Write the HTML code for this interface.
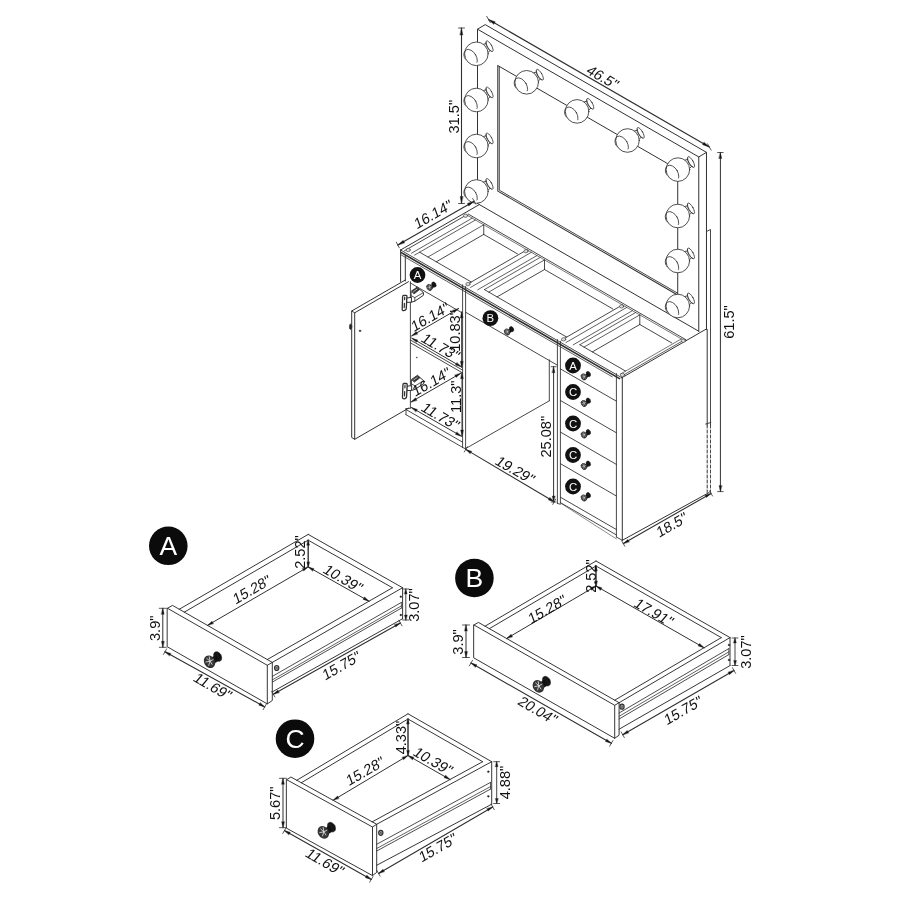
<!DOCTYPE html>
<html><head><meta charset="utf-8"><title>Vanity dimensions</title>
<style>
html,body{margin:0;padding:0;background:#fff;}
body{width:900px;height:900px;overflow:hidden;}
svg{display:block;font-family:"Liberation Sans",sans-serif;filter:grayscale(1);}
svg line,svg path,svg circle,svg ellipse{stroke:#303030;stroke-linecap:round;stroke-linejoin:round;}
svg text{fill:#111;stroke:none;}
</style></head><body>
<svg width="900" height="900" viewBox="0 0 900 900" fill="none">
<rect x="0" y="0" width="900" height="900" fill="#ffffff" stroke="none"/>
<path d="M477.5 203.5 L477.5 29.2 L698.77 156.95 L698.77 331.45" stroke-width="0.99" fill="none" />
<path d="M477.5 29.2 L485.2 24.6 L706.47 152.35 L706.47 329.5" stroke-width="0.99" fill="none" />
<line x1="698.77" y1="156.95" x2="706.47" y2="152.35" stroke-width="0.99" />
<line x1="477.5" y1="203.5" x2="698.77" y2="331.25" stroke-width="0.99" />
<line x1="498.2" y1="65.8" x2="677.73" y2="169.45" stroke-width="0.99" />
<line x1="677.73" y1="169.45" x2="677.73" y2="294.45" stroke-width="0.99" />
<path d="M497.8 65.6 L497.8 191.1 L677.67 294.95" stroke-width="1.04" fill="none" />
<path d="M499.3 66.7 L499.3 190.2 L677.61 293.15" stroke-width="0.88" fill="none" />
<path d="M706.47 231.5 L710.5 229.5 L710.5 330" stroke-width="0.88" fill="none" />
<path d="M481.42 44.9 L487.37 43.2 L491.07 49.6 L486.62 53.9" stroke-width="0.88" fill="#fff" />
<ellipse cx="489.56" cy="46.2" rx="2.1" ry="6.1" transform="rotate(-30 489.56 46.2)" fill="#fff" stroke-width="0.75"/>
<circle cx="476.4" cy="53.8" r="11.8" fill="#fff" stroke-width="0.85"/>
<path d="M486.01 42.25 A2.0 5.4 -30 0 0 491.21 51.25" stroke-width="0.7"/>
<clipPath id="bc476_53"><circle cx="476.4" cy="53.8" r="11.600000000000001"/></clipPath>
<ellipse cx="470.6" cy="57.7" rx="5.8" ry="9" transform="rotate(-30 470.6 57.7)" stroke-width="0.75" clip-path="url(#bc476_53)"/>
<path d="M481.42 91.1 L487.37 89.4 L491.07 95.8 L486.62 100.1" stroke-width="0.88" fill="#fff" />
<ellipse cx="489.56" cy="92.4" rx="2.1" ry="6.1" transform="rotate(-30 489.56 92.4)" fill="#fff" stroke-width="0.75"/>
<circle cx="476.4" cy="100" r="11.8" fill="#fff" stroke-width="0.85"/>
<path d="M486.01 88.45 A2.0 5.4 -30 0 0 491.21 97.45" stroke-width="0.7"/>
<clipPath id="bc476_100"><circle cx="476.4" cy="100" r="11.600000000000001"/></clipPath>
<ellipse cx="470.6" cy="103.9" rx="5.8" ry="9" transform="rotate(-30 470.6 103.9)" stroke-width="0.75" clip-path="url(#bc476_100)"/>
<path d="M481.42 137.1 L487.37 135.4 L491.07 141.8 L486.62 146.1" stroke-width="0.88" fill="#fff" />
<ellipse cx="489.56" cy="138.4" rx="2.1" ry="6.1" transform="rotate(-30 489.56 138.4)" fill="#fff" stroke-width="0.75"/>
<circle cx="476.4" cy="146" r="11.8" fill="#fff" stroke-width="0.85"/>
<path d="M486.01 134.45 A2.0 5.4 -30 0 0 491.21 143.45" stroke-width="0.7"/>
<clipPath id="bc476_146"><circle cx="476.4" cy="146" r="11.600000000000001"/></clipPath>
<ellipse cx="470.6" cy="149.9" rx="5.8" ry="9" transform="rotate(-30 470.6 149.9)" stroke-width="0.75" clip-path="url(#bc476_146)"/>
<path d="M481.42 182.6 L487.37 180.9 L491.07 187.3 L486.62 191.6" stroke-width="0.88" fill="#fff" />
<ellipse cx="489.56" cy="183.9" rx="2.1" ry="6.1" transform="rotate(-30 489.56 183.9)" fill="#fff" stroke-width="0.75"/>
<circle cx="476.4" cy="191.5" r="11.8" fill="#fff" stroke-width="0.85"/>
<path d="M486.01 179.95 A2.0 5.4 -30 0 0 491.21 188.95" stroke-width="0.7"/>
<clipPath id="bc476_191"><circle cx="476.4" cy="191.5" r="11.600000000000001"/></clipPath>
<ellipse cx="470.6" cy="195.4" rx="5.8" ry="9" transform="rotate(-30 470.6 195.4)" stroke-width="0.75" clip-path="url(#bc476_191)"/>
<path d="M531.72 73.4 L537.67 71.7 L541.37 78.1 L536.92 82.4" stroke-width="0.88" fill="#fff" />
<ellipse cx="539.86" cy="74.7" rx="2.1" ry="6.1" transform="rotate(-30 539.86 74.7)" fill="#fff" stroke-width="0.75"/>
<circle cx="526.7" cy="82.3" r="11.8" fill="#fff" stroke-width="0.85"/>
<path d="M536.31 70.75 A2.0 5.4 -30 0 0 541.51 79.75" stroke-width="0.7"/>
<clipPath id="bc526_82"><circle cx="526.7" cy="82.3" r="11.600000000000001"/></clipPath>
<ellipse cx="520.9" cy="86.2" rx="5.8" ry="9" transform="rotate(-30 520.9 86.2)" stroke-width="0.75" clip-path="url(#bc526_82)"/>
<path d="M582.12 102.5 L588.07 100.8 L591.77 107.2 L587.32 111.5" stroke-width="0.88" fill="#fff" />
<ellipse cx="590.27" cy="103.8" rx="2.1" ry="6.1" transform="rotate(-30 590.27 103.8)" fill="#fff" stroke-width="0.75"/>
<circle cx="577.1" cy="111.4" r="11.8" fill="#fff" stroke-width="0.85"/>
<path d="M586.71 99.85 A2.0 5.4 -30 0 0 591.91 108.85" stroke-width="0.7"/>
<clipPath id="bc577_111"><circle cx="577.1" cy="111.4" r="11.600000000000001"/></clipPath>
<ellipse cx="571.3" cy="115.3" rx="5.8" ry="9" transform="rotate(-30 571.3 115.3)" stroke-width="0.75" clip-path="url(#bc577_111)"/>
<path d="M632.53 131.6 L638.47 129.9 L642.17 136.3 L637.73 140.6" stroke-width="0.88" fill="#fff" />
<ellipse cx="640.67" cy="132.9" rx="2.1" ry="6.1" transform="rotate(-30 640.67 132.9)" fill="#fff" stroke-width="0.75"/>
<circle cx="627.51" cy="140.5" r="11.8" fill="#fff" stroke-width="0.85"/>
<path d="M637.12 128.95 A2.0 5.4 -30 0 0 642.32 137.95" stroke-width="0.7"/>
<clipPath id="bc627_140"><circle cx="627.51" cy="140.5" r="11.600000000000001"/></clipPath>
<ellipse cx="621.71" cy="144.4" rx="5.8" ry="9" transform="rotate(-30 621.71 144.4)" stroke-width="0.75" clip-path="url(#bc627_140)"/>
<path d="M682.93 160.7 L688.88 159 L692.58 165.4 L688.13 169.7" stroke-width="0.88" fill="#fff" />
<ellipse cx="691.07" cy="162" rx="2.1" ry="6.1" transform="rotate(-30 691.07 162)" fill="#fff" stroke-width="0.75"/>
<circle cx="677.91" cy="169.6" r="11.8" fill="#fff" stroke-width="0.85"/>
<path d="M687.52 158.05 A2.0 5.4 -30 0 0 692.72 167.05" stroke-width="0.7"/>
<clipPath id="bc677_169"><circle cx="677.91" cy="169.6" r="11.600000000000001"/></clipPath>
<ellipse cx="672.11" cy="173.5" rx="5.8" ry="9" transform="rotate(-30 672.11 173.5)" stroke-width="0.75" clip-path="url(#bc677_169)"/>
<path d="M682.82 207.1 L688.77 205.4 L692.47 211.8 L688.02 216.1" stroke-width="0.88" fill="#fff" />
<ellipse cx="690.96" cy="208.4" rx="2.1" ry="6.1" transform="rotate(-30 690.96 208.4)" fill="#fff" stroke-width="0.75"/>
<circle cx="677.8" cy="216" r="11.8" fill="#fff" stroke-width="0.85"/>
<path d="M687.41 204.45 A2.0 5.4 -30 0 0 692.61 213.45" stroke-width="0.7"/>
<clipPath id="bc677_216"><circle cx="677.8" cy="216" r="11.600000000000001"/></clipPath>
<ellipse cx="672" cy="219.9" rx="5.8" ry="9" transform="rotate(-30 672 219.9)" stroke-width="0.75" clip-path="url(#bc677_216)"/>
<path d="M682.82 252.1 L688.77 250.4 L692.47 256.8 L688.02 261.1" stroke-width="0.88" fill="#fff" />
<ellipse cx="690.96" cy="253.4" rx="2.1" ry="6.1" transform="rotate(-30 690.96 253.4)" fill="#fff" stroke-width="0.75"/>
<circle cx="677.8" cy="261" r="11.8" fill="#fff" stroke-width="0.85"/>
<path d="M687.41 249.45 A2.0 5.4 -30 0 0 692.61 258.45" stroke-width="0.7"/>
<clipPath id="bc677_261"><circle cx="677.8" cy="261" r="11.600000000000001"/></clipPath>
<ellipse cx="672" cy="264.9" rx="5.8" ry="9" transform="rotate(-30 672 264.9)" stroke-width="0.75" clip-path="url(#bc677_261)"/>
<path d="M682.82 297.1 L688.77 295.4 L692.47 301.8 L688.02 306.1" stroke-width="0.88" fill="#fff" />
<ellipse cx="690.96" cy="298.4" rx="2.1" ry="6.1" transform="rotate(-30 690.96 298.4)" fill="#fff" stroke-width="0.75"/>
<circle cx="677.8" cy="306" r="11.8" fill="#fff" stroke-width="0.85"/>
<path d="M687.41 294.45 A2.0 5.4 -30 0 0 692.61 303.45" stroke-width="0.7"/>
<clipPath id="bc677_306"><circle cx="677.8" cy="306" r="11.600000000000001"/></clipPath>
<ellipse cx="672" cy="309.9" rx="5.8" ry="9" transform="rotate(-30 672 309.9)" stroke-width="0.75" clip-path="url(#bc677_306)"/>
<line x1="488.5" y1="19.5" x2="709.3" y2="147" stroke-width="1.2" />
<path d="M488.5 19.5 L495.24 21.83 L493.89 24.17 Z" stroke-width="0.4" fill="#111" />
<path d="M709.3 147 L702.56 144.67 L703.91 142.33 Z" stroke-width="0.4" fill="#111" />
<line x1="490.3" y1="22.7" x2="486.7" y2="16.3" stroke-width="0.8" />
<line x1="711.1" y1="150.2" x2="707.5" y2="143.8" stroke-width="0.8" />
<text transform="translate(603 77) rotate(30) skewX(-10)" x="0" y="5.26" font-size="14.6" text-anchor="middle">46.5"</text>
<line x1="461.5" y1="28" x2="461.5" y2="203.5" stroke-width="1.1" />
<path d="M461.5 28 L462.85 35 L460.15 35 Z" stroke-width="0.4" fill="#111" />
<path d="M461.5 203.5 L460.15 196.5 L462.85 196.5 Z" stroke-width="0.4" fill="#111" />
<line x1="458.5" y1="28" x2="464.5" y2="28" stroke-width="0.8" />
<line x1="458.5" y1="203.5" x2="464.5" y2="203.5" stroke-width="0.8" />
<text transform="translate(453.3 116.7) rotate(-90) skewX(0)" x="0" y="5.26" font-size="14.6" text-anchor="middle">31.5"</text>
<line x1="400.6" y1="250" x2="621.87" y2="377.75" stroke-width="0.88" />
<line x1="401.29" y1="252.6" x2="619.53" y2="378.6" stroke-width="1.65" />
<line x1="401.38" y1="255.05" x2="612.26" y2="376.8" stroke-width="0.77" />
<line x1="400.6" y1="250" x2="479.06" y2="204.7" stroke-width="0.99" />
<line x1="621.87" y1="377.75" x2="706.31" y2="329" stroke-width="0.99" />
<line x1="621.61" y1="376.1" x2="683.53" y2="340.35" stroke-width="0.77" />
<line x1="620.57" y1="374" x2="681.19" y2="339" stroke-width="0.66" />
<line x1="468.15" y1="214" x2="685.96" y2="339.75" stroke-width="0.88" />
<line x1="466.59" y1="214.9" x2="681.8" y2="339.15" stroke-width="0.66" />
<line x1="404.5" y1="250.75" x2="466.59" y2="214.9" stroke-width="0.88" />
<line x1="411.43" y1="253.25" x2="472.22" y2="218.15" stroke-width="0.77" />
<line x1="414.63" y1="255.1" x2="475.42" y2="220" stroke-width="0.77" />
<line x1="427.97" y1="257" x2="483.74" y2="224.8" stroke-width="0.77" />
<line x1="483.74" y1="224.8" x2="483.74" y2="234.4" stroke-width="0.88" />
<line x1="436.28" y1="261.8" x2="483.74" y2="234.4" stroke-width="0.88" />
<line x1="483.74" y1="234.4" x2="517.43" y2="253.85" stroke-width="0.88" />
<line x1="419.65" y1="252.2" x2="471.27" y2="282" stroke-width="0.88" />
<line x1="488.76" y1="292.1" x2="544.53" y2="259.9" stroke-width="0.77" />
<line x1="544.53" y1="259.9" x2="544.53" y2="269.5" stroke-width="0.88" />
<line x1="497.08" y1="296.9" x2="544.53" y2="269.5" stroke-width="0.88" />
<line x1="544.53" y1="269.5" x2="612.86" y2="308.95" stroke-width="0.88" />
<line x1="484.43" y1="289.6" x2="566.7" y2="337.1" stroke-width="0.88" />
<line x1="584.02" y1="347.1" x2="639.8" y2="314.9" stroke-width="0.77" />
<line x1="639.8" y1="314.9" x2="639.8" y2="324.5" stroke-width="0.88" />
<line x1="592.34" y1="351.9" x2="639.8" y2="324.5" stroke-width="0.88" />
<line x1="639.8" y1="324.5" x2="671.75" y2="342.95" stroke-width="0.88" />
<line x1="579.87" y1="344.7" x2="625.59" y2="371.1" stroke-width="0.88" />
<line x1="466.24" y1="284.9" x2="527.04" y2="249.8" stroke-width="0.88" />
<line x1="470.57" y1="287.4" x2="531.37" y2="252.3" stroke-width="0.77" />
<line x1="477.76" y1="289.75" x2="537" y2="255.55" stroke-width="0.77" />
<line x1="484.43" y1="289.6" x2="540.2" y2="257.4" stroke-width="0.77" />
<line x1="561.68" y1="340" x2="622.48" y2="304.9" stroke-width="0.88" />
<line x1="566.01" y1="342.5" x2="626.81" y2="307.4" stroke-width="0.77" />
<line x1="573.2" y1="344.85" x2="632.44" y2="310.65" stroke-width="0.77" />
<line x1="579.87" y1="344.7" x2="635.64" y2="312.5" stroke-width="0.77" />
<ellipse cx="408.22" cy="250" rx="2.1" ry="1.7" fill="#ddd" stroke-width="0.6"/>
<ellipse cx="465.55" cy="215.7" rx="2.1" ry="1.7" fill="#ddd" stroke-width="0.6"/>
<ellipse cx="467.98" cy="284.1" rx="2.1" ry="1.7" fill="#ddd" stroke-width="0.6"/>
<ellipse cx="526" cy="251.2" rx="2.1" ry="1.7" fill="#ddd" stroke-width="0.6"/>
<ellipse cx="563.67" cy="339.35" rx="2.1" ry="1.7" fill="#ddd" stroke-width="0.6"/>
<ellipse cx="621.61" cy="306.4" rx="2.1" ry="1.7" fill="#ddd" stroke-width="0.6"/>
<ellipse cx="622.48" cy="374.9" rx="2.1" ry="1.7" fill="#ddd" stroke-width="0.6"/>
<ellipse cx="683.27" cy="340.8" rx="2.1" ry="1.7" fill="#ddd" stroke-width="0.6"/>
<line x1="397.8" y1="245" x2="474.2" y2="201.3" stroke-width="1.2" />
<path d="M397.8 245 L403.21 240.35 L404.55 242.7 Z" stroke-width="0.4" fill="#111" />
<path d="M474.2 201.3 L468.79 205.95 L467.45 203.6 Z" stroke-width="0.4" fill="#111" />
<line x1="399.3" y1="247.8" x2="396.3" y2="242.2" stroke-width="0.8" />
<line x1="475.7" y1="204.1" x2="472.7" y2="198.5" stroke-width="0.8" />
<text transform="translate(433 214) rotate(-30) skewX(-10)" x="0" y="5.26" font-size="14.6" text-anchor="middle">16.14"</text>
<line x1="400.6" y1="250" x2="400.6" y2="281.5" stroke-width="0.99" />
<line x1="405.3" y1="255.71" x2="405.3" y2="281" stroke-width="0.99" />
<line x1="410.4" y1="283" x2="462.6" y2="313.14" stroke-width="0.88" />
<line x1="410.4" y1="281.7" x2="410.4" y2="408" stroke-width="0.88" />
<line x1="462.6" y1="284.8" x2="462.6" y2="447.5" stroke-width="0.88" />
<line x1="465.6" y1="286.53" x2="465.6" y2="448.5" stroke-width="0.88" />
<line x1="462.6" y1="447.5" x2="465.6" y2="448.8" stroke-width="0.88" />
<line x1="410.4" y1="340" x2="462.6" y2="370.14" stroke-width="0.88" />
<line x1="410.4" y1="342.8" x2="462.6" y2="372.94" stroke-width="0.88" />
<path d="M406 408.7 L410.4 408.2" stroke-width="0.88" fill="none" />
<line x1="406" y1="408.7" x2="406" y2="414.7" stroke-width="0.88" />
<line x1="406" y1="409.5" x2="462.6" y2="442.18" stroke-width="0.88" />
<line x1="406" y1="414.7" x2="462.6" y2="447.38" stroke-width="0.88" />
<path d="M408.5 281.7 L354.7 312.8 L354.7 439.3 L408.5 408.2" stroke-width="0.99" fill="none" />
<path d="M405.5 279.9 L351.7 311 L351.7 437.5 L354.7 439.3" stroke-width="0.99" fill="none" />
<line x1="351.7" y1="311" x2="354.7" y2="312.8" stroke-width="0.88" />
<ellipse cx="350.6" cy="326.7" rx="1.2" ry="2.8" fill="#222" stroke-width="0.6"/>
<circle cx="360" cy="330.8" r="0.9" fill="#222" stroke-width="0.4"/>
<circle cx="416.7" cy="357.5" r="0.5" fill="#222" stroke-width="0.3"/>
<g transform="translate(0 0)"><path d="M411.4 291.1 L417.2 287.1 L423.4 292.6 L423.4 295.3 L414.8 301.2 L411.4 302.2 Z" fill="#fff" stroke-width="1"/><path d="M411.4 295.8 L414.8 297.6 L423.4 292.6 M414.8 297.6 L414.8 301.2" stroke-width="0.8"/><path d="M412 291.6 L417.2 287.6 L419.6 289.6 L414.2 293.8 Z" fill="#333" stroke-width="0.8"/><path d="M413.6 291.6 L417 289.2" stroke-width="0.7" style="stroke:#eee"/><path d="M406.8 298 L411.4 297.4 L411.4 302.2 L406.8 302.4 Z" fill="#fff" stroke-width="1"/><path d="M403.6 295.3 L406.1 295.3 Q407 295.3 406.9 296.4 L406.3 308.4 Q405.9 310.6 403.7 310.6 Q402.1 310.6 402.2 309 L402.6 296.8 Q402.7 295.3 403.6 295.3 Z" fill="#fff" stroke-width="1.3"/><path d="M404.7 297.2 L404.6 299.6 M404.4 303.4 L404.2 307.6" stroke-width="1.2"/></g>
<g transform="translate(0.3 88.2)"><path d="M411.4 291.1 L417.2 287.1 L423.4 292.6 L423.4 295.3 L414.8 301.2 L411.4 302.2 Z" fill="#fff" stroke-width="1"/><path d="M411.4 295.8 L414.8 297.6 L423.4 292.6 M414.8 297.6 L414.8 301.2" stroke-width="0.8"/><path d="M412 291.6 L417.2 287.6 L419.6 289.6 L414.2 293.8 Z" fill="#333" stroke-width="0.8"/><path d="M413.6 291.6 L417 289.2" stroke-width="0.7" style="stroke:#eee"/><path d="M406.8 298 L411.4 297.4 L411.4 302.2 L406.8 302.4 Z" fill="#fff" stroke-width="1"/><path d="M403.6 295.3 L406.1 295.3 Q407 295.3 406.9 296.4 L406.3 308.4 Q405.9 310.6 403.7 310.6 Q402.1 310.6 402.2 309 L402.6 296.8 Q402.7 295.3 403.6 295.3 Z" fill="#fff" stroke-width="1.3"/><path d="M404.7 297.2 L404.6 299.6 M404.4 303.4 L404.2 307.6" stroke-width="1.2"/></g>
<line x1="465.6" y1="312.2" x2="557.4" y2="365.2" stroke-width="0.88" />
<line x1="465.6" y1="448.6" x2="549.3" y2="400.8" stroke-width="0.88" />
<line x1="549.3" y1="400.8" x2="549.3" y2="359.85" stroke-width="0.88" />
<line x1="557.4" y1="339.53" x2="557.4" y2="503.5" stroke-width="0.88" />
<line x1="560.4" y1="341.26" x2="560.4" y2="503" stroke-width="0.88" />
<line x1="557.4" y1="503.5" x2="560.4" y2="504.2" stroke-width="0.88" />
<line x1="616.4" y1="373.59" x2="616.4" y2="537" stroke-width="0.88" />
<line x1="622.3" y1="378" x2="622.3" y2="540.3" stroke-width="0.99" />
<line x1="560.4" y1="368.87" x2="616.4" y2="401.2" stroke-width="0.88" />
<line x1="560.4" y1="400.47" x2="616.4" y2="432.8" stroke-width="0.88" />
<line x1="560.4" y1="432.07" x2="616.4" y2="464.4" stroke-width="0.88" />
<line x1="560.4" y1="463.67" x2="616.4" y2="496" stroke-width="0.88" />
<line x1="560.4" y1="497.2" x2="616.4" y2="529.53" stroke-width="0.88" />
<line x1="560.4" y1="502.6" x2="616.4" y2="534.93" stroke-width="0.88" />
<line x1="560.4" y1="503" x2="616.4" y2="538.93" stroke-width="0.55" />
<line x1="616.4" y1="537" x2="622.3" y2="540.3" stroke-width="0.88" />
<line x1="622.3" y1="540.3" x2="709.2" y2="492.5" stroke-width="0.99" />
<line x1="707.2" y1="329.5" x2="707.2" y2="425" stroke-width="0.99" />
<line x1="710.5" y1="330" x2="710.5" y2="425" stroke-width="0.88" />
<line x1="707.2" y1="425" x2="707.2" y2="492.5" stroke-width="0.99" stroke-dasharray="3 2"/>
<line x1="710.5" y1="425" x2="710.5" y2="492" stroke-width="0.88" stroke-dasharray="3 2"/>
<line x1="705.7" y1="424" x2="710.8" y2="422.5" stroke-width="0.88" />
<circle cx="417.5" cy="275" r="7.9" fill="#111" stroke="none" style="stroke:none"/>
<text x="417.5" y="279.1" font-size="11.4" text-anchor="middle" style="fill:#fff">A</text>
<g transform="translate(429.6 287.2) scale(0.55)"><ellipse cx="8" cy="-4.9" rx="3.6" ry="5.2" transform="rotate(-30 8 -4.9)" fill="#111" stroke-width="0.6"/><path d="M2 -3.2 L6.6 -8 L10.2 -1.6 L4.4 2.2 Z" fill="#111" stroke-width="0.5"/><ellipse cx="-0.3" cy="0.2" rx="4.7" ry="5.9" transform="rotate(-30)" fill="#3a3a3a" stroke-width="1.4"/><path d="M-2.8 -3 L0.4 -0.2 L-1 4 M0.4 -0.2 L3.4 -1.8 M-3.8 0.6 L0.4 -0.2 M-0.4 -4.6 L0.4 -0.2 L2.4 3" stroke-width="0.8" style="stroke:#e8e8e8"/></g>
<circle cx="490.4" cy="318.2" r="7.9" fill="#111" stroke="none" style="stroke:none"/>
<text x="490.4" y="322.3" font-size="11.4" text-anchor="middle" style="fill:#fff">B</text>
<g transform="translate(507.2 331.8) scale(0.55)"><ellipse cx="8" cy="-4.9" rx="3.6" ry="5.2" transform="rotate(-30 8 -4.9)" fill="#111" stroke-width="0.6"/><path d="M2 -3.2 L6.6 -8 L10.2 -1.6 L4.4 2.2 Z" fill="#111" stroke-width="0.5"/><ellipse cx="-0.3" cy="0.2" rx="4.7" ry="5.9" transform="rotate(-30)" fill="#3a3a3a" stroke-width="1.4"/><path d="M-2.8 -3 L0.4 -0.2 L-1 4 M0.4 -0.2 L3.4 -1.8 M-3.8 0.6 L0.4 -0.2 M-0.4 -4.6 L0.4 -0.2 L2.4 3" stroke-width="0.8" style="stroke:#e8e8e8"/></g>
<circle cx="573" cy="365.5" r="7.9" fill="#111" stroke="none" style="stroke:none"/>
<text x="573" y="369.6" font-size="11.4" text-anchor="middle" style="fill:#fff">A</text>
<g transform="translate(584 376.7) scale(0.55)"><ellipse cx="8" cy="-4.9" rx="3.6" ry="5.2" transform="rotate(-30 8 -4.9)" fill="#111" stroke-width="0.6"/><path d="M2 -3.2 L6.6 -8 L10.2 -1.6 L4.4 2.2 Z" fill="#111" stroke-width="0.5"/><ellipse cx="-0.3" cy="0.2" rx="4.7" ry="5.9" transform="rotate(-30)" fill="#3a3a3a" stroke-width="1.4"/><path d="M-2.8 -3 L0.4 -0.2 L-1 4 M0.4 -0.2 L3.4 -1.8 M-3.8 0.6 L0.4 -0.2 M-0.4 -4.6 L0.4 -0.2 L2.4 3" stroke-width="0.8" style="stroke:#e8e8e8"/></g>
<circle cx="573" cy="392" r="7.9" fill="#111" stroke="none" style="stroke:none"/>
<text x="573" y="396.1" font-size="11.4" text-anchor="middle" style="fill:#fff">C</text>
<g transform="translate(584 403.3) scale(0.55)"><ellipse cx="8" cy="-4.9" rx="3.6" ry="5.2" transform="rotate(-30 8 -4.9)" fill="#111" stroke-width="0.6"/><path d="M2 -3.2 L6.6 -8 L10.2 -1.6 L4.4 2.2 Z" fill="#111" stroke-width="0.5"/><ellipse cx="-0.3" cy="0.2" rx="4.7" ry="5.9" transform="rotate(-30)" fill="#3a3a3a" stroke-width="1.4"/><path d="M-2.8 -3 L0.4 -0.2 L-1 4 M0.4 -0.2 L3.4 -1.8 M-3.8 0.6 L0.4 -0.2 M-0.4 -4.6 L0.4 -0.2 L2.4 3" stroke-width="0.8" style="stroke:#e8e8e8"/></g>
<circle cx="573" cy="423.5" r="7.9" fill="#111" stroke="none" style="stroke:none"/>
<text x="573" y="427.6" font-size="11.4" text-anchor="middle" style="fill:#fff">C</text>
<g transform="translate(584 434.8) scale(0.55)"><ellipse cx="8" cy="-4.9" rx="3.6" ry="5.2" transform="rotate(-30 8 -4.9)" fill="#111" stroke-width="0.6"/><path d="M2 -3.2 L6.6 -8 L10.2 -1.6 L4.4 2.2 Z" fill="#111" stroke-width="0.5"/><ellipse cx="-0.3" cy="0.2" rx="4.7" ry="5.9" transform="rotate(-30)" fill="#3a3a3a" stroke-width="1.4"/><path d="M-2.8 -3 L0.4 -0.2 L-1 4 M0.4 -0.2 L3.4 -1.8 M-3.8 0.6 L0.4 -0.2 M-0.4 -4.6 L0.4 -0.2 L2.4 3" stroke-width="0.8" style="stroke:#e8e8e8"/></g>
<circle cx="573" cy="455" r="7.9" fill="#111" stroke="none" style="stroke:none"/>
<text x="573" y="459.1" font-size="11.4" text-anchor="middle" style="fill:#fff">C</text>
<g transform="translate(584 466.3) scale(0.55)"><ellipse cx="8" cy="-4.9" rx="3.6" ry="5.2" transform="rotate(-30 8 -4.9)" fill="#111" stroke-width="0.6"/><path d="M2 -3.2 L6.6 -8 L10.2 -1.6 L4.4 2.2 Z" fill="#111" stroke-width="0.5"/><ellipse cx="-0.3" cy="0.2" rx="4.7" ry="5.9" transform="rotate(-30)" fill="#3a3a3a" stroke-width="1.4"/><path d="M-2.8 -3 L0.4 -0.2 L-1 4 M0.4 -0.2 L3.4 -1.8 M-3.8 0.6 L0.4 -0.2 M-0.4 -4.6 L0.4 -0.2 L2.4 3" stroke-width="0.8" style="stroke:#e8e8e8"/></g>
<circle cx="573" cy="486.5" r="7.9" fill="#111" stroke="none" style="stroke:none"/>
<text x="573" y="490.6" font-size="11.4" text-anchor="middle" style="fill:#fff">C</text>
<g transform="translate(584 497.8) scale(0.55)"><ellipse cx="8" cy="-4.9" rx="3.6" ry="5.2" transform="rotate(-30 8 -4.9)" fill="#111" stroke-width="0.6"/><path d="M2 -3.2 L6.6 -8 L10.2 -1.6 L4.4 2.2 Z" fill="#111" stroke-width="0.5"/><ellipse cx="-0.3" cy="0.2" rx="4.7" ry="5.9" transform="rotate(-30)" fill="#3a3a3a" stroke-width="1.4"/><path d="M-2.8 -3 L0.4 -0.2 L-1 4 M0.4 -0.2 L3.4 -1.8 M-3.8 0.6 L0.4 -0.2 M-0.4 -4.6 L0.4 -0.2 L2.4 3" stroke-width="0.8" style="stroke:#e8e8e8"/></g>
<line x1="411.7" y1="335.8" x2="458.6" y2="308.6" stroke-width="1.0" />
<path d="M411.7 335.8 L416.21 331.62 L417.57 333.96 Z" stroke-width="0.4" fill="#111" />
<path d="M458.6 308.6 L454.09 312.78 L452.73 310.44 Z" stroke-width="0.4" fill="#111" />
<text transform="translate(430 316.7) rotate(-30) skewX(-10)" x="0" y="5.26" font-size="14.6" text-anchor="middle">16.14"</text>
<line x1="411.9" y1="338.2" x2="461.3" y2="366.8" stroke-width="1.0" />
<path d="M411.9 338.2 L417.77 340.04 L416.42 342.37 Z" stroke-width="0.4" fill="#111" />
<path d="M461.3 366.8 L455.43 364.96 L456.78 362.63 Z" stroke-width="0.4" fill="#111" />
<text transform="translate(440.8 346.7) rotate(30) skewX(-10)" x="0" y="5.26" font-size="14.6" text-anchor="middle">11.73"</text>
<line x1="461.7" y1="312" x2="461.7" y2="367.3" stroke-width="1.0" />
<path d="M461.7 312 L463.05 318 L460.35 318 Z" stroke-width="0.4" fill="#111" />
<path d="M461.7 367.3 L460.35 361.3 L463.05 361.3 Z" stroke-width="0.4" fill="#111" />
<text transform="translate(454.4 331) rotate(-90) skewX(0)" x="0" y="5.26" font-size="14.6" text-anchor="middle">10.83"</text>
<line x1="411" y1="402" x2="460.7" y2="373.3" stroke-width="1.0" />
<path d="M411 402 L415.52 397.83 L416.87 400.17 Z" stroke-width="0.4" fill="#111" />
<path d="M460.7 373.3 L456.18 377.47 L454.83 375.13 Z" stroke-width="0.4" fill="#111" />
<text transform="translate(431.3 381.6) rotate(-30) skewX(-10)" x="0" y="5.26" font-size="14.6" text-anchor="middle">16.14"</text>
<line x1="411.5" y1="407.6" x2="461.3" y2="436.2" stroke-width="1.0" />
<path d="M411.5 407.6 L417.38 409.42 L416.03 411.76 Z" stroke-width="0.4" fill="#111" />
<path d="M461.3 436.2 L455.42 434.38 L456.77 432.04 Z" stroke-width="0.4" fill="#111" />
<text transform="translate(440.7 416) rotate(30) skewX(-10)" x="0" y="5.26" font-size="14.6" text-anchor="middle">11.73"</text>
<line x1="462" y1="372.7" x2="462" y2="436" stroke-width="1.0" />
<path d="M462 372.7 L463.35 378.7 L460.65 378.7 Z" stroke-width="0.4" fill="#111" />
<path d="M462 436 L460.65 430 L463.35 430 Z" stroke-width="0.4" fill="#111" />
<text transform="translate(455.3 396.7) rotate(-90) skewX(0)" x="0" y="5.26" font-size="14.6" text-anchor="middle">11.3"</text>
<line x1="553.6" y1="366.7" x2="553.6" y2="502" stroke-width="1.0" />
<path d="M553.6 366.7 L554.95 372.7 L552.25 372.7 Z" stroke-width="0.4" fill="#111" />
<path d="M553.6 502 L552.25 496 L554.95 496 Z" stroke-width="0.4" fill="#111" />
<line x1="551.1" y1="366.7" x2="556.1" y2="366.7" stroke-width="0.8" />
<line x1="551.1" y1="502" x2="556.1" y2="502" stroke-width="0.8" />
<text transform="translate(545.5 436.7) rotate(-90) skewX(0)" x="0" y="5.26" font-size="14.6" text-anchor="middle">25.08"</text>
<line x1="465.8" y1="449.4" x2="554.2" y2="501.8" stroke-width="1.1" />
<path d="M465.8 449.4 L471.65 451.3 L470.27 453.62 Z" stroke-width="0.4" fill="#111" />
<path d="M554.2 501.8 L548.35 499.9 L549.73 497.58 Z" stroke-width="0.4" fill="#111" />
<line x1="467.3" y1="446.8" x2="464.3" y2="452" stroke-width="0.8" />
<line x1="555.7" y1="499.2" x2="552.7" y2="504.4" stroke-width="0.8" />
<text transform="translate(515.3 469.7) rotate(30) skewX(-10)" x="0" y="5.26" font-size="14.6" text-anchor="middle">19.29"</text>
<line x1="623.3" y1="543.6" x2="711" y2="493.4" stroke-width="1.1" />
<path d="M623.3 543.6 L627.84 539.45 L629.18 541.79 Z" stroke-width="0.4" fill="#111" />
<path d="M711 493.4 L706.46 497.55 L705.12 495.21 Z" stroke-width="0.4" fill="#111" />
<line x1="621.8" y1="541" x2="624.8" y2="546.2" stroke-width="0.8" />
<line x1="709.5" y1="490.8" x2="712.5" y2="496" stroke-width="0.8" />
<text transform="translate(671.6 524.6) rotate(-30) skewX(-10)" x="0" y="5.26" font-size="14.6" text-anchor="middle">18.5"</text>
<line x1="720.4" y1="152.5" x2="720.4" y2="491.6" stroke-width="1.0" />
<path d="M720.4 152.5 L721.75 158.5 L719.05 158.5 Z" stroke-width="0.4" fill="#111" />
<path d="M720.4 491.6 L719.05 485.6 L721.75 485.6 Z" stroke-width="0.4" fill="#111" />
<line x1="717.6" y1="152.5" x2="723.2" y2="152.5" stroke-width="0.8" />
<line x1="717.6" y1="491.6" x2="723.2" y2="491.6" stroke-width="0.8" />
<text transform="translate(728.6 322) rotate(-90) skewX(0)" x="0" y="5.26" font-size="14.6" text-anchor="middle">61.5"</text>
<path d="M167.5 608.3 L267.3 665.3 L267.3 703.9 L167.5 646.9 Z" stroke-width="0.97" fill="none" />
<path d="M167.5 608.3 L172.5 605.4 L272.3 662.4 L267.3 665.3" stroke-width="0.97" fill="none" />
<path d="M272.3 662.4 L272.3 700.5 L267.3 703.9" stroke-width="0.97" fill="none" />
<line x1="179.2" y1="609.3" x2="308.2" y2="534.4" stroke-width="0.97" />
<line x1="308.2" y1="534.4" x2="402.6" y2="587.7" stroke-width="0.97" />
<line x1="402.6" y1="587.7" x2="272.3" y2="662.4" stroke-width="0.97" />
<line x1="308.2" y1="540.2" x2="184.3" y2="612.14" stroke-width="0.97" />
<line x1="308.2" y1="540.2" x2="392.44" y2="587.76" stroke-width="0.97" />
<line x1="392.44" y1="587.76" x2="267.27" y2="659.53" stroke-width="0.97" />
<line x1="308.2" y1="540.2" x2="308.2" y2="566.9" stroke-width="0.97" />
<line x1="402.6" y1="587.7" x2="402.6" y2="618.7" stroke-width="0.97" />
<line x1="402.6" y1="618.7" x2="272.3" y2="691.9" stroke-width="0.97" />
<line x1="401.4" y1="602.4" x2="272.3" y2="676.4" stroke-width="0.86" />
<line x1="401.4" y1="605.9" x2="272.3" y2="679.9" stroke-width="0.76" />
<line x1="401.4" y1="608.1" x2="272.3" y2="682.1" stroke-width="0.86" />
<line x1="401.4" y1="602.4" x2="401.4" y2="608.1" stroke-width="0.76" />
<ellipse cx="276.7" cy="668" rx="2.12" ry="2.5" fill="#aaa" stroke-width="1.2"/>
<path d="M275.6 669.1 L277.8 666.9 M275.7 667 L277.7 669" stroke-width="0.6" style="stroke:#333"/>
<circle cx="400.8" cy="596.7" r="0.9" fill="#222" stroke-width="0.4"/>
<circle cx="400.8" cy="615" r="0.9" fill="#222" stroke-width="0.4"/>
<g transform="translate(209.7 661.4) scale(1.0)"><ellipse cx="8" cy="-4.9" rx="3.6" ry="5.2" transform="rotate(-30 8 -4.9)" fill="#111" stroke-width="0.6"/><path d="M2 -3.2 L6.6 -8 L10.2 -1.6 L4.4 2.2 Z" fill="#111" stroke-width="0.5"/><ellipse cx="-0.3" cy="0.2" rx="4.7" ry="5.9" transform="rotate(-30)" fill="#3a3a3a" stroke-width="1.4"/><path d="M-2.8 -3 L0.4 -0.2 L-1 4 M0.4 -0.2 L3.4 -1.8 M-3.8 0.6 L0.4 -0.2 M-0.4 -4.6 L0.4 -0.2 L2.4 3" stroke-width="0.8" style="stroke:#e8e8e8"/></g>
<circle cx="168.3" cy="545.8" r="19.3" fill="#0b0b0b" style="stroke:none"/>
<text x="168.3" y="555.29" font-size="26.5" text-anchor="middle" style="fill:#fff">A</text>
<line x1="207.48" y1="625.38" x2="308.2" y2="566.9" stroke-width="1.0" />
<path d="M207.48 625.38 L211.99 621.2 L213.35 623.53 Z" stroke-width="0.4" fill="#111" />
<path d="M308.2 566.9 L303.69 571.08 L302.33 568.75 Z" stroke-width="0.4" fill="#111" />
<text transform="translate(251.7 589.2) rotate(-30) skewX(-10)" x="0" y="5.26" font-size="14.6" text-anchor="middle">15.28"</text>
<line x1="308.2" y1="566.9" x2="368.98" y2="601.22" stroke-width="1.0" />
<path d="M308.2 566.9 L314.09 568.67 L312.76 571.03 Z" stroke-width="0.4" fill="#111" />
<path d="M368.98 601.22 L363.09 599.44 L364.42 597.09 Z" stroke-width="0.4" fill="#111" />
<text transform="translate(343.3 578.3) rotate(30) skewX(-10)" x="0" y="5.26" font-size="14.6" text-anchor="middle">10.39"</text>
<line x1="308.2" y1="540.2" x2="308.2" y2="566.9" stroke-width="0.9" />
<path d="M308.2 540.2 L309.55 545.2 L306.85 545.2 Z" stroke-width="0.4" fill="#111" />
<path d="M308.2 566.9 L306.85 561.9 L309.55 561.9 Z" stroke-width="0.4" fill="#111" />
<text transform="translate(300 552) rotate(-90) skewX(0)" x="0" y="5.26" font-size="14.6" text-anchor="middle">2.52"</text>
<line x1="162.8" y1="608.3" x2="162.8" y2="647.3" stroke-width="1.0" />
<path d="M162.8 608.3 L164.15 614.3 L161.45 614.3 Z" stroke-width="0.4" fill="#111" />
<path d="M162.8 647.3 L161.45 641.3 L164.15 641.3 Z" stroke-width="0.4" fill="#111" />
<line x1="159.3" y1="608.3" x2="166.3" y2="608.3" stroke-width="0.8" />
<line x1="159.3" y1="647.3" x2="166.3" y2="647.3" stroke-width="0.8" />
<text transform="translate(155 628.3) rotate(-90) skewX(0)" x="0" y="5.26" font-size="14.6" text-anchor="middle">3.9"</text>
<line x1="165" y1="651.7" x2="264.7" y2="706.9" stroke-width="1.1" />
<path d="M165 651.7 L170.9 653.43 L169.6 655.79 Z" stroke-width="0.4" fill="#111" />
<path d="M264.7 706.9 L258.8 705.17 L260.1 702.81 Z" stroke-width="0.4" fill="#111" />
<line x1="166.6" y1="648.9" x2="163.4" y2="654.5" stroke-width="0.8" />
<line x1="266.3" y1="704.1" x2="263.1" y2="709.7" stroke-width="0.8" />
<text transform="translate(212.9 686.2) rotate(30) skewX(-10)" x="0" y="5.26" font-size="14.6" text-anchor="middle">11.69"</text>
<line x1="273.3" y1="694.2" x2="400.4" y2="623" stroke-width="1.1" />
<path d="M273.3 694.2 L277.87 690.09 L279.19 692.45 Z" stroke-width="0.4" fill="#111" />
<path d="M400.4 623 L395.83 627.11 L394.51 624.75 Z" stroke-width="0.4" fill="#111" />
<line x1="271.7" y1="691.4" x2="274.9" y2="697" stroke-width="0.8" />
<line x1="398.8" y1="620.2" x2="402" y2="625.8" stroke-width="0.8" />
<text transform="translate(341.3 665.3) rotate(-30) skewX(-10)" x="0" y="5.26" font-size="14.6" text-anchor="middle">15.75"</text>
<line x1="405.8" y1="589" x2="405.8" y2="620" stroke-width="0.9" />
<path d="M405.8 589 L407.15 594 L404.45 594 Z" stroke-width="0.4" fill="#111" />
<path d="M405.8 620 L404.45 615 L407.15 615 Z" stroke-width="0.4" fill="#111" />
<line x1="402.8" y1="589" x2="408.8" y2="589" stroke-width="0.8" />
<line x1="402.8" y1="620" x2="408.8" y2="620" stroke-width="0.8" />
<text transform="translate(413.7 605) rotate(-90) skewX(0)" x="0" y="5.26" font-size="14.6" text-anchor="middle">3.07"</text>
<path d="M474 625 L614.7 705.3 L614.7 738.3 L474 658 Z" stroke-width="0.97" fill="none" />
<path d="M474 625 L478.4 622.4 L619.1 702.7 L614.7 705.3" stroke-width="0.97" fill="none" />
<path d="M619.1 702.7 L619.1 735.2 L614.7 738.3" stroke-width="0.97" fill="none" />
<line x1="485" y1="626.2" x2="596" y2="561" stroke-width="0.97" />
<line x1="596" y1="561" x2="730" y2="637.6" stroke-width="0.97" />
<line x1="730" y1="637.6" x2="619.1" y2="702.7" stroke-width="0.97" />
<line x1="596" y1="566" x2="489.35" y2="628.65" stroke-width="0.97" />
<line x1="596" y1="566" x2="721.3" y2="637.63" stroke-width="0.97" />
<line x1="721.3" y1="637.63" x2="614.71" y2="700.19" stroke-width="0.97" />
<line x1="596" y1="566" x2="596" y2="586" stroke-width="0.97" />
<line x1="730" y1="637.6" x2="730" y2="665.6" stroke-width="0.97" />
<line x1="730" y1="665.6" x2="619.1" y2="729.2" stroke-width="0.97" />
<line x1="728.8" y1="648.6" x2="619.1" y2="713" stroke-width="0.86" />
<line x1="728.8" y1="651.9" x2="619.1" y2="716.3" stroke-width="0.76" />
<line x1="728.8" y1="654.6" x2="619.1" y2="719" stroke-width="0.86" />
<line x1="728.8" y1="648.6" x2="728.8" y2="654.6" stroke-width="0.76" />
<ellipse cx="622" cy="706.7" rx="2.12" ry="2.5" fill="#aaa" stroke-width="1.2"/>
<path d="M620.9 707.8 L623.1 705.6 M621 705.7 L623 707.7" stroke-width="0.6" style="stroke:#333"/>
<circle cx="729" cy="645" r="0.9" fill="#222" stroke-width="0.4"/>
<circle cx="729" cy="660" r="0.9" fill="#222" stroke-width="0.4"/>
<g transform="translate(538.5 686) scale(1.0)"><ellipse cx="8" cy="-4.9" rx="3.6" ry="5.2" transform="rotate(-30 8 -4.9)" fill="#111" stroke-width="0.6"/><path d="M2 -3.2 L6.6 -8 L10.2 -1.6 L4.4 2.2 Z" fill="#111" stroke-width="0.5"/><ellipse cx="-0.3" cy="0.2" rx="4.7" ry="5.9" transform="rotate(-30)" fill="#3a3a3a" stroke-width="1.4"/><path d="M-2.8 -3 L0.4 -0.2 L-1 4 M0.4 -0.2 L3.4 -1.8 M-3.8 0.6 L0.4 -0.2 M-0.4 -4.6 L0.4 -0.2 L2.4 3" stroke-width="0.8" style="stroke:#e8e8e8"/></g>
<circle cx="474.4" cy="578" r="19.3" fill="#0b0b0b" style="stroke:none"/>
<text x="474.4" y="587.49" font-size="26.5" text-anchor="middle" style="fill:#fff">B</text>
<line x1="506.62" y1="638.5" x2="596" y2="586" stroke-width="1.0" />
<path d="M506.62 638.5 L511.11 634.3 L512.47 636.63 Z" stroke-width="0.4" fill="#111" />
<path d="M596 586 L591.51 590.2 L590.14 587.87 Z" stroke-width="0.4" fill="#111" />
<text transform="translate(547 609) rotate(-30) skewX(-10)" x="0" y="5.26" font-size="14.6" text-anchor="middle">15.28"</text>
<line x1="596" y1="586" x2="704.04" y2="647.76" stroke-width="1.0" />
<path d="M596 586 L601.88 587.81 L600.54 590.15 Z" stroke-width="0.4" fill="#111" />
<path d="M704.04 647.76 L698.16 645.95 L699.5 643.61 Z" stroke-width="0.4" fill="#111" />
<text transform="translate(654 612) rotate(30) skewX(-10)" x="0" y="5.26" font-size="14.6" text-anchor="middle">17.91"</text>
<line x1="596" y1="566" x2="596" y2="586" stroke-width="0.9" />
<path d="M596 566 L597.35 571 L594.65 571 Z" stroke-width="0.4" fill="#111" />
<path d="M596 586 L594.65 581 L597.35 581 Z" stroke-width="0.4" fill="#111" />
<text transform="translate(590.5 576) rotate(-90) skewX(0)" x="0" y="5.26" font-size="14.6" text-anchor="middle">2.52"</text>
<line x1="466" y1="625" x2="466" y2="657.5" stroke-width="1.0" />
<path d="M466 625 L467.35 631 L464.65 631 Z" stroke-width="0.4" fill="#111" />
<path d="M466 657.5 L464.65 651.5 L467.35 651.5 Z" stroke-width="0.4" fill="#111" />
<line x1="462.5" y1="625" x2="469.5" y2="625" stroke-width="0.8" />
<line x1="462.5" y1="657.5" x2="469.5" y2="657.5" stroke-width="0.8" />
<text transform="translate(458 642) rotate(-90) skewX(0)" x="0" y="5.26" font-size="14.6" text-anchor="middle">3.9"</text>
<line x1="471" y1="663" x2="611.3" y2="743.3" stroke-width="1.1" />
<path d="M471 663 L476.88 664.81 L475.54 667.15 Z" stroke-width="0.4" fill="#111" />
<path d="M611.3 743.3 L605.42 741.49 L606.76 739.15 Z" stroke-width="0.4" fill="#111" />
<line x1="472.6" y1="660.2" x2="469.4" y2="665.8" stroke-width="0.8" />
<line x1="612.9" y1="740.5" x2="609.7" y2="746.1" stroke-width="0.8" />
<text transform="translate(538 710) rotate(30) skewX(-10)" x="0" y="5.26" font-size="14.6" text-anchor="middle">20.04"</text>
<line x1="622.7" y1="734.7" x2="734" y2="670.5" stroke-width="1.1" />
<path d="M622.7 734.7 L627.22 730.53 L628.57 732.87 Z" stroke-width="0.4" fill="#111" />
<path d="M734 670.5 L729.48 674.67 L728.13 672.33 Z" stroke-width="0.4" fill="#111" />
<line x1="621.1" y1="731.9" x2="624.3" y2="737.5" stroke-width="0.8" />
<line x1="732.4" y1="667.7" x2="735.6" y2="673.3" stroke-width="0.8" />
<text transform="translate(683 710) rotate(-30) skewX(-10)" x="0" y="5.26" font-size="14.6" text-anchor="middle">15.75"</text>
<line x1="735" y1="638" x2="735" y2="665.5" stroke-width="0.9" />
<path d="M735 638 L736.35 643 L733.65 643 Z" stroke-width="0.4" fill="#111" />
<path d="M735 665.5 L733.65 660.5 L736.35 660.5 Z" stroke-width="0.4" fill="#111" />
<line x1="732" y1="638" x2="738" y2="638" stroke-width="0.8" />
<line x1="732" y1="665.5" x2="738" y2="665.5" stroke-width="0.8" />
<text transform="translate(745.5 652) rotate(-90) skewX(0)" x="0" y="5.26" font-size="14.6" text-anchor="middle">3.07"</text>
<path d="M286.7 779.7 L372.5 827 L372.5 875.6 L286.7 828.3 Z" stroke-width="0.97" fill="none" />
<path d="M286.7 779.7 L290.9 777 L376.7 824.3 L372.5 827" stroke-width="0.97" fill="none" />
<path d="M376.7 824.3 L376.7 872.4 L372.5 875.6" stroke-width="0.97" fill="none" />
<line x1="296.7" y1="780.3" x2="408" y2="713.8" stroke-width="0.97" />
<line x1="408" y1="713.8" x2="491.7" y2="761.7" stroke-width="0.97" />
<line x1="491.7" y1="761.7" x2="376.7" y2="824.3" stroke-width="0.97" />
<line x1="408" y1="719" x2="301.32" y2="782.74" stroke-width="0.97" />
<line x1="408" y1="719" x2="482.65" y2="761.72" stroke-width="0.97" />
<line x1="482.65" y1="761.72" x2="372.23" y2="821.83" stroke-width="0.97" />
<line x1="408" y1="719" x2="408" y2="755.5" stroke-width="0.97" />
<line x1="491.7" y1="761.7" x2="491.7" y2="804.2" stroke-width="0.97" />
<line x1="491.7" y1="804.2" x2="376.7" y2="865.3" stroke-width="0.97" />
<line x1="490.5" y1="782.4" x2="376.7" y2="844.3" stroke-width="0.86" />
<line x1="490.5" y1="786.6" x2="376.7" y2="848.5" stroke-width="0.76" />
<line x1="490.5" y1="789.1" x2="376.7" y2="851" stroke-width="0.86" />
<line x1="490.5" y1="782.4" x2="490.5" y2="789.1" stroke-width="0.76" />
<ellipse cx="380.8" cy="832.8" rx="2.12" ry="2.5" fill="#aaa" stroke-width="1.2"/>
<path d="M379.7 833.9 L381.9 831.7 M379.8 831.8 L381.8 833.8" stroke-width="0.6" style="stroke:#333"/>
<circle cx="488.3" cy="771.7" r="0.9" fill="#222" stroke-width="0.4"/>
<circle cx="488.3" cy="796.3" r="0.9" fill="#222" stroke-width="0.4"/>
<g transform="translate(323.5 832) scale(1.0)"><ellipse cx="8" cy="-4.9" rx="3.6" ry="5.2" transform="rotate(-30 8 -4.9)" fill="#111" stroke-width="0.6"/><path d="M2 -3.2 L6.6 -8 L10.2 -1.6 L4.4 2.2 Z" fill="#111" stroke-width="0.5"/><ellipse cx="-0.3" cy="0.2" rx="4.7" ry="5.9" transform="rotate(-30)" fill="#3a3a3a" stroke-width="1.4"/><path d="M-2.8 -3 L0.4 -0.2 L-1 4 M0.4 -0.2 L3.4 -1.8 M-3.8 0.6 L0.4 -0.2 M-0.4 -4.6 L0.4 -0.2 L2.4 3" stroke-width="0.8" style="stroke:#e8e8e8"/></g>
<circle cx="295" cy="738.7" r="19.3" fill="#0b0b0b" style="stroke:none"/>
<text x="295" y="748.19" font-size="26.5" text-anchor="middle" style="fill:#fff">C</text>
<line x1="333.09" y1="800.26" x2="408" y2="755.5" stroke-width="1.0" />
<path d="M333.09 800.26 L337.55 796.02 L338.93 798.34 Z" stroke-width="0.4" fill="#111" />
<path d="M408 755.5 L403.54 759.74 L402.16 757.42 Z" stroke-width="0.4" fill="#111" />
<text transform="translate(365 770.8) rotate(-30) skewX(-10)" x="0" y="5.26" font-size="14.6" text-anchor="middle">15.28"</text>
<line x1="408" y1="755.5" x2="449.96" y2="779.52" stroke-width="1.0" />
<path d="M408 755.5 L413.88 757.31 L412.54 759.65 Z" stroke-width="0.4" fill="#111" />
<path d="M449.96 779.52 L444.09 777.71 L445.43 775.36 Z" stroke-width="0.4" fill="#111" />
<text transform="translate(433.3 760.8) rotate(30) skewX(-10)" x="0" y="5.26" font-size="14.6" text-anchor="middle">10.39"</text>
<line x1="408" y1="719" x2="408" y2="755.5" stroke-width="0.9" />
<path d="M408 719 L409.35 724 L406.65 724 Z" stroke-width="0.4" fill="#111" />
<path d="M408 755.5 L406.65 750.5 L409.35 750.5 Z" stroke-width="0.4" fill="#111" />
<text transform="translate(401 737.5) rotate(-90) skewX(0)" x="0" y="5.26" font-size="14.6" text-anchor="middle">4.33"</text>
<line x1="283" y1="778.3" x2="283" y2="827.7" stroke-width="1.0" />
<path d="M283 778.3 L284.35 784.3 L281.65 784.3 Z" stroke-width="0.4" fill="#111" />
<path d="M283 827.7 L281.65 821.7 L284.35 821.7 Z" stroke-width="0.4" fill="#111" />
<line x1="279.5" y1="778.3" x2="286.5" y2="778.3" stroke-width="0.8" />
<line x1="279.5" y1="827.7" x2="286.5" y2="827.7" stroke-width="0.8" />
<text transform="translate(275 803.3) rotate(-90) skewX(0)" x="0" y="5.26" font-size="14.6" text-anchor="middle">5.67"</text>
<line x1="284.4" y1="830.6" x2="371.3" y2="879.4" stroke-width="1.1" />
<path d="M284.4 830.6 L290.29 832.36 L288.97 834.71 Z" stroke-width="0.4" fill="#111" />
<path d="M371.3 879.4 L365.41 877.64 L366.73 875.29 Z" stroke-width="0.4" fill="#111" />
<line x1="286" y1="827.8" x2="282.8" y2="833.4" stroke-width="0.8" />
<line x1="372.9" y1="876.6" x2="369.7" y2="882.2" stroke-width="0.8" />
<text transform="translate(325 861.8) rotate(30) skewX(-10)" x="0" y="5.26" font-size="14.6" text-anchor="middle">11.69"</text>
<line x1="378.5" y1="873.4" x2="492.7" y2="806.9" stroke-width="1.1" />
<path d="M378.5 873.4 L383.01 869.21 L384.36 871.55 Z" stroke-width="0.4" fill="#111" />
<path d="M492.7 806.9 L488.19 811.09 L486.84 808.75 Z" stroke-width="0.4" fill="#111" />
<line x1="376.9" y1="870.6" x2="380.1" y2="876.2" stroke-width="0.8" />
<line x1="491.1" y1="804.1" x2="494.3" y2="809.7" stroke-width="0.8" />
<text transform="translate(437.7 847.4) rotate(-30) skewX(-10)" x="0" y="5.26" font-size="14.6" text-anchor="middle">15.75"</text>
<line x1="496.7" y1="761.7" x2="496.7" y2="803.5" stroke-width="0.9" />
<path d="M496.7 761.7 L498.05 766.7 L495.35 766.7 Z" stroke-width="0.4" fill="#111" />
<path d="M496.7 803.5 L495.35 798.5 L498.05 798.5 Z" stroke-width="0.4" fill="#111" />
<line x1="493.7" y1="761.7" x2="499.7" y2="761.7" stroke-width="0.8" />
<line x1="493.7" y1="803.5" x2="499.7" y2="803.5" stroke-width="0.8" />
<text transform="translate(505 782.5) rotate(-90) skewX(0)" x="0" y="5.26" font-size="14.6" text-anchor="middle">4.88"</text>
</svg>
</body></html>
